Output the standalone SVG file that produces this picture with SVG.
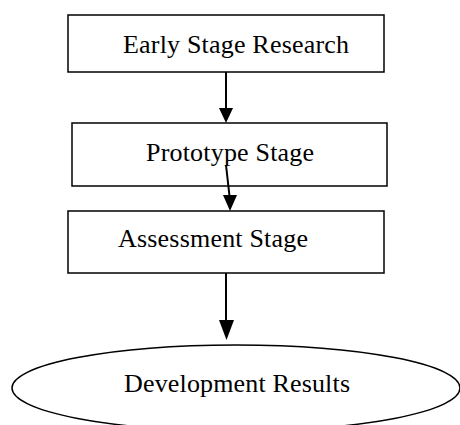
<svg xmlns="http://www.w3.org/2000/svg" width="460" height="425" viewBox="0 0 460 425">
<style>
.box{fill:#fff;stroke:#000;stroke-width:1.5}
.lbl{font-family:"Liberation Serif","Times New Roman",serif;font-size:26px;fill:#000}
.con{stroke:#000;stroke-width:2;fill:none}
.head{fill:#000;stroke:none}
</style>
<rect width="460" height="425" fill="#fff"/>
<g id="node-early">
<rect class="box" x="68" y="15" width="316" height="57"/>
<text class="lbl" x="123" y="53" textLength="226">Early Stage Research</text>
</g>
<g id="node-prototype">
<rect class="box" x="72" y="123" width="315" height="63"/>
<text class="lbl" x="146" y="161" textLength="168">Prototype Stage</text>
</g>
<g id="node-assessment">
<rect class="box" x="68" y="211" width="316" height="62"/>
<text class="lbl" x="118" y="247" textLength="190">Assessment Stage</text>
</g>
<g id="node-results">
<ellipse class="box" cx="236" cy="388" rx="224" ry="43"/>
<text class="lbl" x="124" y="392" textLength="226">Development Results</text>
</g>
<g id="connectors">
<line class="con" x1="226" y1="72" x2="226" y2="109"/>
<polygon class="head" points="219,108 233,108 226,123"/>
<line class="con" x1="226" y1="165" x2="229.5" y2="196"/>
<polygon class="head" points="223,195 237,195 230,211"/>
<line class="con" x1="226" y1="273" x2="226" y2="321"/>
<polygon class="head" points="219,320 234,320 226.5,340"/>
</g>
</svg>
